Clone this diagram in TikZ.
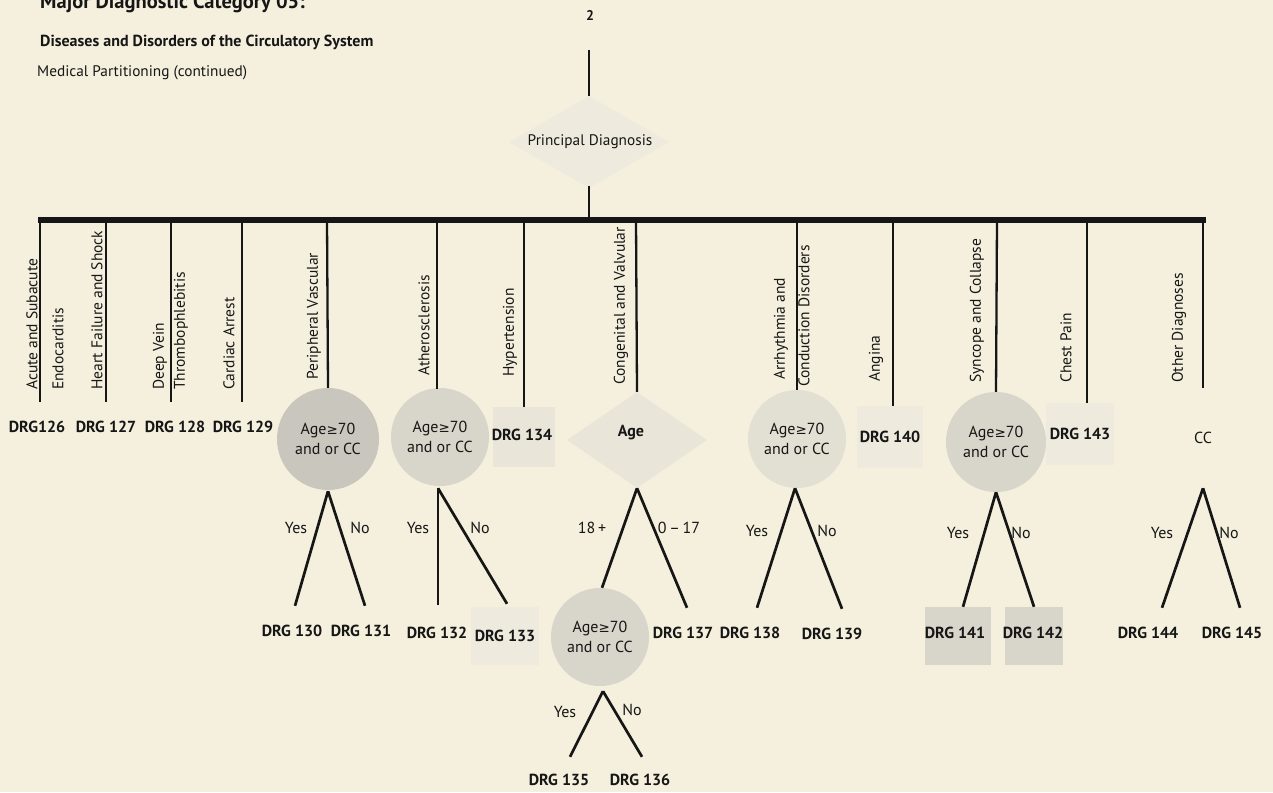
\documentclass[tikz,border=0pt]{standalone}
\usepackage{fontspec}
\setmainfont{PT Sans}
\newfontfamily\symfont{DejaVu Sans}
\usetikzlibrary{shapes.geometric}
\definecolor{paper}{RGB}{244,240,221}
\definecolor{ink}{RGB}{22,22,22}
\definecolor{shA}{RGB}{200,198,189}
\definecolor{shB}{RGB}{216,213,202}
\definecolor{shC}{RGB}{226,223,211}
\definecolor{shD}{RGB}{233,230,217}
\definecolor{shE}{RGB}{238,235,222}
\tikzset{
  lab/.style={rotate=90, anchor=west, inner sep=0pt, text=ink, font=\fontsize{15.5}{17}\selectfont},
  drg/.style={minimum width=62, minimum height=50, inner sep=0pt, text=ink, font=\bfseries\fontsize{16}{18}\selectfont},
  drgtext/.style={inner sep=0pt, text=ink, font=\bfseries\fontsize{16}{18}\selectfont},
  yn/.style={inner sep=0pt, text=ink, font=\fontsize{16}{18}\selectfont},
  agecirc/.style={circle, minimum size=98, inner sep=0pt, align=center, text=ink, font=\fontsize{16}{20}\selectfont},
  branch/.style={draw=ink, line width=2.3},
  leg/.style={draw=ink, line width=2.7},
}
\newcommand{\agetext}{Age{\symfont\fontsize{13.5}{20}\selectfont ≥}70\\and or CC}
\begin{document}
\begin{tikzpicture}[x=1pt,y=-1pt]
\useasboundingbox (0,0) rectangle (1273,792);
\clip (0,0) rectangle (1273,792);
\fill[paper] (0,0) rectangle (1273,792);

% titles
\node[anchor=base west, inner sep=0, text=ink, font=\bfseries\fontsize{20.5}{22}\selectfont] (t1) at (40,9) {Major Diagnostic Category 05:};
\node[anchor=base west, inner sep=0, text=ink, font=\bfseries\fontsize{16}{18}\selectfont] (t2) at (40,46) {Diseases and Disorders of the Circulatory System};
\node[anchor=base west, inner sep=0, text=ink, font=\fontsize{15.3}{17}\selectfont] (t3) at (37,77) {Medical Partitioning (continued)};

% top connector and principal diagnosis
\node[text=ink, font=\bfseries\fontsize{14}{16}\selectfont] (two) at (590,16) {2};
\coordinate (topin) at (589,50);
\node[diamond, minimum width=160, minimum height=92, inner sep=0pt, fill=shE] (pd) at (589,142) {};
\node[text=ink, inner sep=0pt, font=\fontsize{15.3}{17}\selectfont] (pdt) at (590,142) {Principal Diagnosis};
\draw[branch] (topin) -- (pd.north);
\coordinate (barL) at (38,220);
\coordinate (barR) at (1206,220);
\draw[draw=ink, line width=6] (barL) -- (barR);
\draw[branch] ([yshift=2]pd.south) -- (pd.south |- barL);

% shapes in the outcome row
\node[drg] (d126) at (37,427) {DRG126};
\node[drg] (d127) at (106,427) {DRG 127};
\node[drg] (d128) at (175,427) {DRG 128};
\node[drg] (d129) at (243,427) {DRG 129};
\node[agecirc, minimum size=102, fill=shA] (c1) at (328,439) {\agetext};
\node[agecirc, fill=shB] (c2) at (440,437) {\agetext};
\node[drg, minimum width=62, minimum height=60, fill=shD] (d134) at (524,437) {};
\node[drgtext] (d134t) at (522,435) {DRG 134};
\node[diamond, minimum width=140, minimum height=96, inner sep=0pt, fill=shD] (age) at (637,440) {};
\node[drgtext] (aget) at (631,433) {Age};
\node[agecirc, fill=shC] (c3) at (797,439) {\agetext};
\node[drg, minimum width=66, minimum height=62, fill=shE] (d140) at (890,437) {DRG 140};
\node[agecirc, minimum size=100, fill=shB] (c4) at (996,442) {\agetext};
\node[drg, minimum width=68, minimum height=62, fill=shE] (d143) at (1080,434) {DRG 143};
\node[drg, minimum width=90, minimum height=100, font=\fontsize{16}{18}\selectfont] (cc) at (1203,438) {CC};

% branch lines from the bar
\draw[branch] (40,220) -- (40,402);
\draw[branch] (106,220) -- (d127.north);
\draw[branch] (171,220) -- (171,402);
\draw[branch] (242,220) -- (242,402);
\draw[branch] (327,220) -- (c1.north);
\draw[branch] (437,220) -- (437,389);
\draw[branch] (524,220) -- (d134.north);
\draw[branch] (636,220) -- (age.north);
\draw[branch] (797,220) -- (c3.north);
\draw[branch] (893,220) -- (893,406);
\draw[branch] (997,220) -- (c4.north);
\draw[branch] (1087,220) -- (1087,403);
\draw[branch] (1203,220) -- (cc.north);

% rotated labels
\node[lab] (l1a) at (32,390) {Acute and Subacute};
\node[lab] (l1b) at (58,390) {Endocarditis};
\node[lab] (l2) at (97,390) {Heart Failure and Shock};
\node[lab] (l3a) at (160,390) {Deep Vein};
\node[lab] (l3b) at (181,390) {Thrombophlebitis};
\node[lab] (l4) at (229,390) {Cardiac Arrest};
\node[lab] (l5) at (314,380) {Peripheral Vascular};
\node[lab] (l6) at (424,376) {Atherosclerosis};
\node[lab] (l7) at (510,377) {Hypertension};
\node[lab] (l8) at (621,385) {Congenital and Valvular};
\node[lab] (l9a) at (781,380) {Arrhythmia and};
\node[lab] (l9b) at (804,387) {Conduction Disorders};
\node[lab] (l10) at (876,382) {Angina};
\node[lab] (l11) at (977,383) {Syncope and Collapse};
\node[lab] (l12) at (1066,383) {Chest Pain};
\node[lab] (l13) at (1179,383) {Other Diagnoses};

% second row outcomes
\node[drg] (d130) at (292,631) {DRG 130};
\node[drg] (d131) at (361,631) {DRG 131};
\node[drg] (d132) at (437,633) {DRG 132};
\node[drg, minimum width=68, minimum height=58, fill=shE] (d133) at (505,636) {DRG 133};
\node[agecirc, fill=shB] (c5) at (600,637) {\agetext};
\node[drg] (d137) at (683,633) {DRG 137};
\node[drg] (d138) at (750,633) {DRG 138};
\node[drg] (d139) at (832,634) {DRG 139};
\node[drg, minimum width=66, minimum height=58, fill=shB] (d141) at (958,636) {};
\node[drg, minimum width=58, minimum height=58, fill=shB] (d142) at (1034,636) {};
\node[drgtext] (d141t) at (955,633) {DRG 141};
\node[drgtext] (d142t) at (1033,633) {DRG 142};
\node[drg] (d144) at (1148,633) {DRG 144};
\node[drg] (d145) at (1232,633) {DRG 145};
\node[drg] (d135) at (559,780) {DRG 135};
\node[drg] (d136) at (640,780) {DRG 136};

% legs
\draw[leg] ([yshift=-1]c1.south) -- ([xshift=3]d130.north);
\draw[leg] ([yshift=-1]c1.south) -- ([xshift=4]d131.north);
\draw[leg] ([xshift=-2,yshift=-2]c2.south) -- ([xshift=1,yshift=3]d132.north);
\draw[leg] ([xshift=-2,yshift=-2]c2.south) -- ([xshift=2,yshift=3]d133.north);
\draw[leg] (age.south) -- ([xshift=2]c5.north);
\draw[leg] (age.south) -- ([xshift=4]d137.north);
\draw[leg] ([xshift=-2]c3.south) -- ([xshift=7]d138.north);
\draw[leg] ([xshift=-2]c3.south) -- ([xshift=10]d139.north);
\draw[leg] (c4.south) -- ([xshift=5]d141.north);
\draw[leg] (c4.south) -- (d142.north);
\draw[leg] (cc.south) -- ([xshift=14]d144.north);
\draw[leg] (cc.south) -- ([xshift=8]d145.north);
\draw[leg] ([xshift=3,yshift=-5]c5.south) -- ([xshift=11,yshift=-2]d135.north);
\draw[leg] ([xshift=3,yshift=-5]c5.south) -- ([xshift=2,yshift=-2]d136.north);

% leg labels
\node[yn] (y1) at (296,528) {Yes};
\node[yn] (n1) at (360,528) {No};
\node[yn] (y2) at (418,528) {Yes};
\node[yn] (n2) at (480,528) {No};
\node[yn] (y3) at (592,528) {18\,+};
\node[yn] (n3) at (679,528) {0\,–\,17};
\node[yn] (y4) at (757,531) {Yes};
\node[yn] (n4) at (827,531) {No};
\node[yn] (y5) at (958,533) {Yes};
\node[yn] (n5) at (1021,533) {No};
\node[yn] (y6) at (1162,533) {Yes};
\node[yn] (n6) at (1229,533) {No};
\node[yn] (y7) at (565,712) {Yes};
\node[yn] (n7) at (632,710) {No};
\end{tikzpicture}
\end{document}
